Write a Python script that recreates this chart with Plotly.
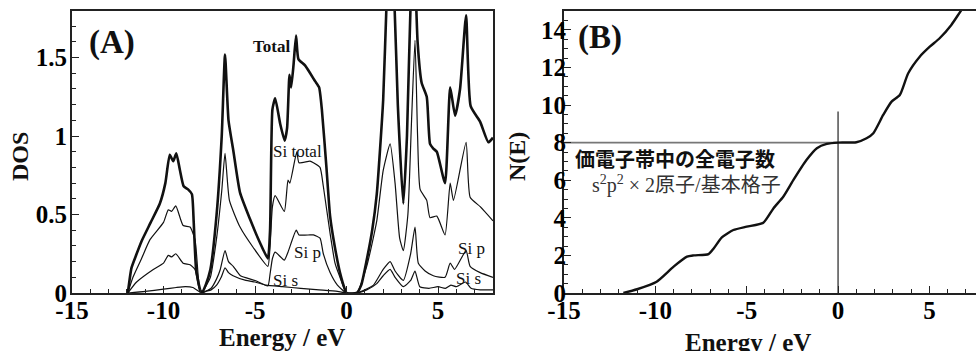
import plotly.graph_objects as go

# ---------------- Data ----------------
# Panel A: density of states
E_TOTAL = [-11.95, -11.75, -11.5, -11.2, -10.7, -10.2, -9.9, -9.66, -9.47, -9.3, -9.1, -8.9, -8.66, -8.45,
           -8.35, -8.22, -8.0, -7.9, -7.7, -7.44, -7.1, -6.82, -6.64, -6.45, -6.19, -5.82, -5.27, -4.73, -4.3,
           -4.18, -4.05, -3.9, -3.63, -3.38, -3.25, -3.12, -3.03, -2.9, -2.76, -2.63, -2.27, -1.72, -1.5,
           -1.35, -1.1, -0.9, -0.65, -0.36, -0.08, 0.0, 0.55, 0.8, 1.1, 1.4, 1.65, 2.0, 2.2, 2.38, 2.6, 2.8,
           3.1, 3.3, 3.5, 3.68, 3.88, 4.1, 4.38, 4.56, 4.74, 4.93, 5.38, 5.66, 5.93, 6.2, 6.53, 6.78, 7.3,
           7.75, 8.0]
DOS_TOTAL = [0.0, 0.16, 0.24, 0.33, 0.45, 0.57, 0.70, 0.88, 0.84, 0.89, 0.78, 0.68, 0.66, 0.63,
             0.45, 0.15, 0.02, 0.0, 0.05, 0.15, 0.50, 1.00, 1.52, 1.10, 0.91, 0.64, 0.47, 0.32, 0.22,
             0.40, 1.17, 1.24, 1.08, 0.97, 1.05, 1.39, 1.31, 1.45, 1.64, 1.49, 1.45, 1.35, 1.31,
             1.17, 0.80, 0.49, 0.30, 0.13, 0.02, 0.0, 0.0, 0.05, 0.21, 0.40, 0.63, 1.23, 1.90, 2.30, 1.90, 1.20,
             0.57, 1.00, 1.85, 2.20, 1.60, 1.34, 1.25, 0.95, 0.92, 0.90, 0.70, 1.31, 1.13, 1.30, 1.77, 1.19, 1.09,
             0.96, 0.99]

E_SI_TOTAL = [-11.95, -11.67, -11.2, -10.74, -10.0, -9.74, -9.56, -9.33, -8.93, -8.55, -8.28, -8.1, -8.0,
              -7.9, -7.7, -7.44, -7.1, -6.82, -6.64, -6.4, -5.82, -5.1, -4.3, -4.18, -4.05, -3.9, -3.4,
              -3.2, -3.1, -2.72, -2.6, -2.0, -1.81, -1.45, -1.27, -0.9, -0.63, -0.36, 0.0, 0.55, 1.1, 1.65,
              2.0, 2.38, 2.65, 2.9, 3.1, 3.35, 3.55, 3.74, 3.88, 4.02, 4.38, 4.56, 4.93, 5.38, 5.66, 5.84,
              6.53, 6.75, 7.3, 8.0]
DOS_SI_TOTAL = [0.0, 0.10, 0.22, 0.34, 0.45, 0.53, 0.52, 0.555, 0.43, 0.42, 0.34, 0.10, 0.01,
                0.0, 0.04, 0.10, 0.35, 0.65, 0.89, 0.59, 0.42, 0.29, 0.17, 0.30, 0.55, 0.62, 0.52,
                0.72, 0.70, 0.90, 0.83, 0.84, 0.83, 0.80, 0.68, 0.38, 0.19, 0.10, 0.0, 0.0, 0.17, 0.46,
                0.78, 0.95, 0.70, 0.35, 0.27, 0.50, 1.10, 1.61, 1.00, 0.66, 0.59, 0.48, 0.49, 0.37, 0.70, 0.59,
                0.96, 0.61, 0.55, 0.46]

E_SI_P = [-11.95, -11.47, -10.56, -10.0, -9.74, -9.56, -9.33, -8.93, -8.55, -8.28, -8.1, -8.0,
          -7.9, -7.7, -7.4, -7.1, -6.9, -6.64, -6.45, -6.19, -5.8, -5.0, -4.3, -4.18, -4.05, -3.9, -3.4,
          -3.2, -2.75, -2.6, -2.0, -1.81, -1.45, -1.27, -0.9, -0.5, 0.0, 0.55, 1.0, 1.47, 2.0, 2.38, 2.65,
          3.1, 3.5, 3.74, 3.92, 4.29, 4.74, 5.38, 5.66, 5.9, 6.53, 6.75, 7.3, 8.0]
DOS_SI_P = [0.0, 0.07, 0.15, 0.19, 0.24, 0.23, 0.25, 0.19, 0.18, 0.15, 0.05, 0.01,
            0.0, 0.01, 0.03, 0.09, 0.15, 0.27, 0.20, 0.17, 0.11, 0.08, 0.045, 0.12, 0.22, 0.26, 0.21,
            0.26, 0.40, 0.37, 0.37, 0.37, 0.35, 0.25, 0.13, 0.05, 0.0, 0.0, 0.02, 0.05, 0.15, 0.20, 0.14,
            0.08, 0.25, 0.42, 0.19, 0.14, 0.11, 0.10, 0.19, 0.15, 0.27, 0.17, 0.13, 0.10]

E_SI_S = [-11.95, -11.0, -10.0, -9.3, -8.8, -8.4, -8.0, -7.9, -7.7, -7.4, -7.1, -6.85, -6.64, -6.45,
          -6.2, -5.5, -5.0, -4.4, -3.5, -2.5, -1.5, -0.5, 0.0, 0.55, 1.1, 1.65, 2.0, 2.38, 2.65, 3.1,
          3.5, 3.74, 4.0, 4.5, 5.0, 5.4, 5.7, 6.0, 6.5, 6.8, 7.3, 8.0]
DOS_SI_S = [0.0, 0.01, 0.025, 0.035, 0.04, 0.035, 0.005, 0.0, 0.01, 0.02, 0.05, 0.10, 0.16, 0.13,
            0.11, 0.08, 0.07, 0.05, 0.04, 0.03, 0.02, 0.01, 0.0, 0.0, 0.02, 0.06, 0.11, 0.15, 0.10, 0.04,
            0.08, 0.14, 0.04, 0.03, 0.04, 0.03, 0.05, 0.04, 0.07, 0.03, 0.02, 0.02]

# Panel B: integrated number of states N(E)
E_N = [-11.75, -11.0, -9.93, -9.0, -8.27, -7.9, -7.09, -6.8, -6.36, -5.73, -5.0, -4.09, -3.54,
       -3.0, -2.45, -1.73, -1.16, -0.62, 0.0, 1.0, 1.56, 1.93, 2.47, 2.93, 3.38, 3.84, 4.47, 5.02,
       5.56, 6.2, 6.75, 7.6]
N_E = [0.0, 0.2, 0.60, 1.40, 1.93, 2.0, 2.07, 2.38, 2.96, 3.35, 3.53, 3.74, 4.5,
       5.12, 6.0, 7.07, 7.70, 7.93, 8.0, 8.02, 8.23, 8.5, 9.47, 10.18, 10.53, 11.69, 12.57, 13.1,
       13.55, 14.26, 15.05, 16.2]

N_VALENCE = 8          # electrons in the valence band
FERMI_E = 0.0          # top of the valence band
FERMI_LINE_TOP = 9.65  # extent of the vertical marker line

X_TICKS = [-15, -10, -5, 0, 5]
X_TICK_TEXT = ["-15", "-10", "-5", "0", "5"]
Y_TICKS_A = [0, 0.5, 1, 1.5]
Y_TICK_TEXT_A = ["0", "0.5", "1", "1.5"]
Y_TICKS_B = [0, 2, 4, 6, 8, 10, 12, 14]
Y_TICK_TEXT_B = ["0", "2", "4", "6", "8", "10", "12", "14"]

# ---------------- Figure ----------------
W, H = 976, 351
SERIF = "Liberation Serif"
CJK = "Noto Sans CJK JP"

def bold(labels):
    return ["<b>%s</b>" % s for s in labels]

fig = go.Figure()

def add_dos(x, y, width, name):
    fig.add_trace(go.Scatter(x=x, y=y, mode="lines", name=name,
                             line=dict(color="#111", width=width, shape="spline", smoothing=0.5),
                             xaxis="x", yaxis="y", showlegend=False))

add_dos(E_SI_S, DOS_SI_S, 1.2, "Si s")
add_dos(E_SI_P, DOS_SI_P, 1.2, "Si p")
add_dos(E_SI_TOTAL, DOS_SI_TOTAL, 1.2, "Si total")
add_dos(E_TOTAL, DOS_TOTAL, 2.6, "Total")

fig.add_trace(go.Scatter(x=E_N, y=N_E, mode="lines", showlegend=False,
                         line=dict(color="#111", width=2.4, shape="spline", smoothing=0.6),
                         xaxis="x2", yaxis="y2"))

# reference lines in panel B
fig.add_shape(type="line", xref="x2", yref="y2", x0=-15, x1=FERMI_E, y0=N_VALENCE, y1=N_VALENCE,
              line=dict(color="#777", width=1.6), layer="below")
fig.add_shape(type="line", xref="x2", yref="y2", x0=FERMI_E, x1=FERMI_E, y0=0, y1=FERMI_LINE_TOP,
              line=dict(color="#333", width=1.3), layer="below")

y0p = 1 - 293 / H

axis_common = dict(showgrid=False, zeroline=False, showline=True, linecolor="#222", linewidth=2,
                   ticks="inside", tickcolor="#222", tickwidth=1.2, automargin=False,
                   tickfont=dict(family=SERIF, size=25, color="#000", weight=700))

fig.update_layout(
    width=W, height=H, margin=dict(l=0, r=0, t=0, b=0, autoexpand=False),
    paper_bgcolor="white", plot_bgcolor="white",
    xaxis=dict(domain=[72 / W, 493 / W], range=[-15, 8], tickvals=X_TICKS, ticktext=bold(X_TICK_TEXT),
               ticklen=7, mirror=True, anchor="y",
               minor=dict(dtick=1, ticklen=4, ticks="inside", tickcolor="#222"),
               ticklabelstandoff=-6, **axis_common),
    yaxis=dict(domain=[y0p, 1 - 10.5 / H], range=[0, 1.8], tickvals=Y_TICKS_A, ticktext=bold(Y_TICK_TEXT_A),
               ticklen=7, mirror=True, anchor="x",
               minor=dict(dtick=0.1, ticklen=4, ticks="inside", tickcolor="#222"),
               ticklabelstandoff=-2, **axis_common),
    xaxis2=dict(domain=[564 / W, 1.0], range=[-15, 7.55], tickvals=X_TICKS, ticktext=bold(X_TICK_TEXT),
                ticklen=7, mirror=True, anchor="y2",
                minor=dict(dtick=1, ticklen=4, ticks="inside", tickcolor="#222"),
                ticklabelstandoff=-6, **axis_common),
    yaxis2=dict(domain=[y0p, 1 - 11 / H], range=[0, 15], tickvals=Y_TICKS_B, ticktext=bold(Y_TICK_TEXT_B),
                ticklen=7, mirror=False, anchor="x2",
                minor=dict(dtick=0.5, ticklen=4, ticks="inside", tickcolor="#222"),
                ticklabelstandoff=-9, **axis_common),
)

def ann(text, x, y, size, is_bold=False, xanchor="center", yanchor="middle",
        family=SERIF, color="#111", angle=0):
    fig.add_annotation(text=text, x=x, y=y, xref="paper", yref="paper", xanchor=xanchor, yanchor=yanchor,
                       showarrow=False, textangle=angle, borderpad=0,
                       font=dict(family=family, size=size, color=color,
                                 weight="bold" if is_bold else "normal"))

# panel labels
ann("<b>(A)</b>", 112 / W, 1 - 42 / H, 33)
ann("<b>(B)</b>", 600 / W, 1 - 37 / H, 33)

# axis titles
ann("<b>DOS</b>", 20 / W, 1 - 157 / H, 24, angle=-90)
ann("<b>N(E)</b>", 517 / W, 1 - 157 / H, 24, angle=-90)
ann("<b>Energy / eV</b>", 282 / W, 1 - 337 / H, 25)
ann("<b>Energy / eV</b>", 748 / W, 1 - 342 / H, 25)

# curve labels (panel A)
ann("<b>Total</b>", 271 / W, 1 - 46 / H, 17)
ann("Si total", 297 / W, 1 - 152 / H, 17)
ann("Si p", 307 / W, 1 - 253 / H, 17)
ann("Si s", 285 / W, 1 - 280 / H, 17)
ann("Si p", 471 / W, 1 - 248 / H, 17)
ann("Si s", 468 / W, 1 - 278 / H, 17)

# panel B notes
ann("<b>価電子帯中の全電子数</b>", 574 / W, 1 - 159 / H, 20, xanchor="left", family=CJK)
ann("s<sup>2</sup>p<sup>2</sup> × 2原子/基本格子", 591 / W, 1 - 184 / H, 20, xanchor="left",
    family="Liberation Serif, Noto Sans CJK JP", color="#333")

fig.write_html("out.html")
